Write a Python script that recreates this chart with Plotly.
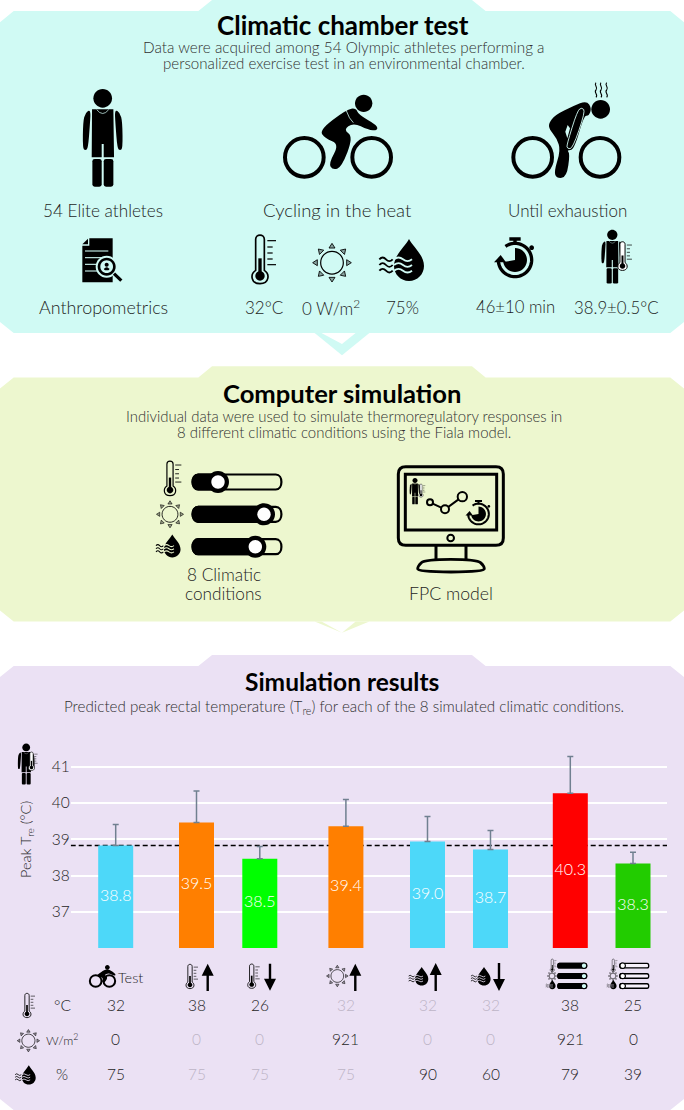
import math
import plotly.graph_objects as go

# ---------- data ----------
conditions = ["Test", "Ta up", "Ta down", "Rad up", "RH up", "RH down", "All high", "All low"]
peak_tre = [38.83, 39.46, 38.46, 39.36, 38.94, 38.72, 40.27, 38.33]
tre_err = [0.58, 0.87, 0.34, 0.74, 0.69, 0.52, 1.01, 0.31]
bar_labels = ["38.8", "39.5", "38.5", "39.4", "39.0", "38.7", "40.3", "38.3"]
reference_tre = 38.83
temp_c = [32, 38, 26, 32, 32, 32, 38, 25]
rad_wm2 = [0, 0, 0, 921, 0, 0, 921, 0]
rh_pct = [75, 75, 75, 75, 90, 60, 79, 39]
y_ticks = [37, 38, 39, 40, 41]
row_units = ["°C", "W/m<sup>2</sup>", "%"]

# ---------- layout / style ----------
W, H = 684, 1110
FONT = "Lato"
LIGHT = 300
bar_x = [115.7, 196.5, 259.8, 345.9, 427.5, 490.5, 570.3, 633]
bar_colors = ["#4DD8F9", "#FF7F00", "#00FF00", "#FF7F00", "#4DD8F9", "#4DD8F9", "#FF0000", "#22CC00"]
MINT, LIME, LILAC = "#D0FAF4", "#EDF7CF", "#EBE1F4"
DARK, FADED, SOFT = "#1E1E1E", "#BDB4C6", "#303030"
always_dark = {0, 6, 7}

shapes, annos = [], []
CLEAR = "rgba(0,0,0,0)"


def path_of(pts, close=True):
    s = "M " + " L ".join(f"{x:.2f},{y:.2f}" for x, y in pts)
    return s + (" Z" if close else "")


def draw(path, fill=None, line=None, w=0):
    shapes.append(dict(type="path", xref="x2", yref="y2", layer="above", path=path,
                       fillcolor=fill or CLEAR, line=dict(color=line or CLEAR, width=w)))


def paper(path_pts):
    return path_of([(x / W, 1 - y / H) for x, y in path_pts])


def lower(pts, fill):
    shapes.append(dict(type="path", xref="paper", yref="paper", layer="below", path=paper(pts),
                       fillcolor=fill, line=dict(width=0)))


def circle(cx, cy, r):
    k = 0.5523 * r
    return (f"M {cx-r:.2f},{cy:.2f} C {cx-r:.2f},{cy-k:.2f} {cx-k:.2f},{cy-r:.2f} {cx:.2f},{cy-r:.2f} "
            f"C {cx+k:.2f},{cy-r:.2f} {cx+r:.2f},{cy-k:.2f} {cx+r:.2f},{cy:.2f} "
            f"C {cx+r:.2f},{cy+k:.2f} {cx+k:.2f},{cy+r:.2f} {cx:.2f},{cy+r:.2f} "
            f"C {cx-k:.2f},{cy+r:.2f} {cx-r:.2f},{cy+k:.2f} {cx-r:.2f},{cy:.2f} Z")


def smooth(pts):
    n = len(pts)
    mid = lambda a, b: ((a[0] + b[0]) / 2, (a[1] + b[1]) / 2)
    start = mid(pts[-1], pts[0])
    s = f"M {start[0]:.2f},{start[1]:.2f}"
    for i in range(n):
        m = mid(pts[i], pts[(i + 1) % n])
        s += f" Q {pts[i][0]:.2f},{pts[i][1]:.2f} {m[0]:.2f},{m[1]:.2f}"
    return s + " Z"


def xf(cx, cy, s, x0, y0):
    m = s / 3
    return (lambda x, y: (cx + m * (x - x0), cy + m * (y - y0))), m


def rrect(f, m, x0, y0, x1, y1, r):
    a, b = f(x0, y0), f(x1, y1)
    r = r * m
    return (f"M {a[0]+r:.2f},{a[1]:.2f} L {b[0]-r:.2f},{a[1]:.2f} Q {b[0]:.2f},{a[1]:.2f} {b[0]:.2f},{a[1]+r:.2f} "
            f"L {b[0]:.2f},{b[1]-r:.2f} Q {b[0]:.2f},{b[1]:.2f} {b[0]-r:.2f},{b[1]:.2f} "
            f"L {a[0]+r:.2f},{b[1]:.2f} Q {a[0]:.2f},{b[1]:.2f} {a[0]:.2f},{b[1]-r:.2f} "
            f"L {a[0]:.2f},{a[1]+r:.2f} Q {a[0]:.2f},{a[1]:.2f} {a[0]+r:.2f},{a[1]:.2f} Z")


def mapped(f, pts):
    return [f(x, y) for x, y in pts]


# ---------- icons (defined in 3x crop units, placed by anchor) ----------
def person(cx, top, s, bg):
    f, m = xf(cx, top, s, 128, 27)
    draw(circle(*f(128, 55), 28 * m), "black")
    draw(path_of(mapped(f, [(96, 88), (160, 88), (162, 232), (131, 232), (131, 192), (125, 192), (125, 232), (95, 232)])), "black")
    for sign in (1, -1):
        pts = [(92, 88), (76, 98), (69, 125), (68, 206), (76, 211), (84, 206), (90, 130)]
        pts = [(128 + sign * (x - 128), y) for x, y in pts]
        draw(smooth(mapped(f, pts)), "black")
    draw(rrect(f, m, 97, 237, 125, 320, 7), "black")
    draw(rrect(f, m, 131, 237, 160, 320, 7), "black")
    a, b, c = f(110, 89), f(128, 112), f(146, 89)
    draw(f"M {a[0]:.2f},{a[1]:.2f} Q {b[0]:.2f},{b[1]:.2f} {c[0]:.2f},{c[1]:.2f}", None, bg, 2.2 * m)


def wheel(f, m, x, y):
    draw(circle(*f(x, y), 58 * m), None, "black", 12 * m)


def cyclist(bg):
    f = lambda x, y: (60 + x / 3, 80 + y / 3)
    m = 1 / 3
    wheel(f, m, 733, 232)
    wheel(f, m, 935, 232)
    draw(circle(*f(911, 70), 26 * m), "black")
    draw(smooth(mapped(f, [(778, 150), (860, 88), (888, 84), (895, 104), (952, 136), (952, 152), (925, 150), (880, 128),
                           (850, 150), (880, 170), (845, 262), (818, 270), (806, 250), (838, 192), (795, 175)])), "black")
    a, b, c = f(858, 90), f(868, 118), f(880, 128)
    draw(f"M {a[0]:.2f},{a[1]:.2f} Q {b[0]:.2f},{b[1]:.2f} {c[0]:.2f},{c[1]:.2f}", None, bg, 0.8)


def bent_cyclist(bg):
    f = lambda x, y: (490 + x / 3, 70 + y / 3)
    m = 1 / 3
    wheel(f, m, 128, 262)
    wheel(f, m, 330, 262)
    draw(circle(*f(332, 118), 28 * m), "black")
    draw(smooth(mapped(f, [(176, 160), (195, 135), (250, 108), (290, 92), (305, 115), (296, 138), (282, 136), (252, 240),
                           (230, 240), (240, 250), (230, 322), (200, 325), (192, 305), (212, 240), (200, 205), (178, 178)])), "black")
    draw(smooth(mapped(f, [(262, 122), (276, 112), (286, 125), (248, 236), (232, 236), (230, 225)])), None, bg, 0.9)
    draw(path_of(mapped(f, [(233, 165), (240, 175), (232, 205), (226, 185)])), bg)
    for x in (318, 333, 350):
        a = f(x, 38); b = f(x - 8, 46); c = f(x + 8, 52); d = f(x, 60)
        e = f(x - 8, 67); g = f(x + 8, 74); h = f(x, 82)
        draw(f"M {a[0]:.2f},{a[1]:.2f} C {b[0]:.2f},{b[1]:.2f} {c[0]:.2f},{c[1]:.2f} {d[0]:.2f},{d[1]:.2f} "
             f"C {e[0]:.2f},{e[1]:.2f} {g[0]:.2f},{g[1]:.2f} {h[0]:.2f},{h[1]:.2f}", None, "black", 1.1)


def document(bg):
    f = lambda x, y: (70 + x / 3, 225 + y / 3)
    m = 1 / 3
    draw(path_of(mapped(f, [(58, 40), (128, 40), (128, 172), (37, 172), (37, 62), (58, 62)])), "black")
    draw(path_of(mapped(f, [(37, 58), (54, 58), (54, 41)])), "black")
    for y, x1 in ((78, 115), (98, 105), (118, 88), (138, 88)):
        a, b = f(45, y), f(x1, y)
        draw(path_of([a, b], False), None, bg, 1.1)
    draw(circle(*f(110, 125), 33 * m), bg)
    draw(circle(*f(110, 125), 27 * m), "black")
    draw(circle(*f(110, 125), 19 * m), bg)
    draw(circle(*f(110, 119), 6 * m), "black")
    draw(smooth(mapped(f, [(98, 136), (110, 124), (122, 136)])), "black")
    draw(path_of([f(132, 146), f(154, 167)], False), None, "black", 3.2)


def thermometer(cx, top, s, bg, ticks=True):
    f, m = xf(cx, top, s, 570, 30)
    p = lambda x, y: "{:.2f},{:.2f}".format(*f(x, y))
    draw(f"M {p(557,136)} L {p(557,43)} C {p(557,26)} {p(583,26)} {p(583,43)} L {p(583,136)} "
         f"C {p(600,147)} {p(598,176)} {p(570,176)} C {p(542,176)} {p(540,147)} {p(557,136)} Z", bg, "black", 5 * m)
    draw(path_of(mapped(f, [(565, 100), (575, 100), (575, 150), (565, 150)])), "black")
    draw(circle(*f(570, 153), 14 * m), "black")
    if ticks:
        for y, x1 in ((47, 618), (66, 608), (84, 608), (102, 608), (119, 618)):
            draw(path_of([f(592, y), f(x1, y)], False), None, "black", 3.6 * m)


def sun(cx, cy, s):
    f, m = xf(cx, cy, s, 0, 0)
    draw(circle(cx, cy, 34 * m), None, "black", max(3.6 * m, 0.6))
    for k in range(8):
        a = math.radians(k * 45)
        u, v = math.cos(a), math.sin(a)
        draw(path_of(mapped(f, [(u * 58, v * 58), (u * 44 - v * 9, v * 44 + u * 9), (u * 44 + v * 9, v * 44 - u * 9)])),
             "rgba(0,0,0,0.35)", "black", max(2.6 * m, 0.3))


def wave(f, x0, x1, y, color, w):
    d = (x1 - x0) / 4
    pts = [f(x0, y), f(x0 + d, y - 11), f(x0 + 2 * d, y), f(x0 + 3 * d, y + 11), f(x1, y)]
    s = f"M {pts[0][0]:.2f},{pts[0][1]:.2f} Q {pts[1][0]:.2f},{pts[1][1]:.2f} {pts[2][0]:.2f},{pts[2][1]:.2f} " \
        f"Q {pts[3][0]:.2f},{pts[3][1]:.2f} {pts[4][0]:.2f},{pts[4][1]:.2f}"
    draw(s, None, color, w)


def drop(cx, cy, s, bg):
    f, m = xf(cx, cy, s, 1017, 123)
    p = lambda x, y: "{:.2f},{:.2f}".format(*f(x, y))
    draw(f"M {p(1017,42)} C {p(1005,65)} {p(972,90)} {p(972,123)} C {p(972,148)} {p(992,168)} {p(1017,168)} "
         f"C {p(1042,168)} {p(1062,148)} {p(1062,123)} C {p(1062,90)} {p(1029,65)} {p(1017,42)} Z", "black")
    for y in (103, 120, 137):
        wave(f, 928, 968, y, "black", 5.5 * m)
        wave(f, 972, 1026, y, bg, 5.5 * m)


def stopwatch(cx, cy, s, bg):
    f, m = xf(cx, cy, s, 105, 105)
    draw(path_of(mapped(f, [(88, 37), (122, 37), (122, 47), (110, 47), (110, 58), (100, 58), (100, 47), (88, 47)])), "black")
    draw(circle(*f(155, 68), 7 * m), "black")
    arc = [f(105 + 50 * math.cos(math.radians(t)), 105 + 50 * math.sin(math.radians(t))) for t in range(-125, 176, 5)]
    draw(path_of(arc, False), None, "black", 10 * m)
    draw(path_of(mapped(f, [(42, 112), (78, 112), (62, 90)])), "black")
    pie = [f(105, 105)] + [f(105 + 36 * math.cos(math.radians(t)), 105 + 36 * math.sin(math.radians(t))) for t in range(-90, 171, 10)]
    draw(path_of(pie), "black")


def slider(x0, x1, cy, h, knob, r_out, r_in, knob_fill, bg, sw):
    track = lambda a, b: (f"M {a+h/2:.2f},{cy-h/2:.2f} L {b-h/2:.2f},{cy-h/2:.2f} C {b:.2f},{cy-h/2:.2f} {b:.2f},{cy+h/2:.2f} {b-h/2:.2f},{cy+h/2:.2f} "
                          f"L {a+h/2:.2f},{cy+h/2:.2f} C {a:.2f},{cy+h/2:.2f} {a:.2f},{cy-h/2:.2f} {a+h/2:.2f},{cy-h/2:.2f} Z")
    draw(track(x0, x1), bg, "black", sw)
    draw(track(x0, min(knob + 2, x1)), "black", "black", sw)
    draw(circle(knob, cy, r_out), "black")
    draw(circle(knob, cy, r_in), knob_fill)


def monitor(bg):
    f = lambda x, y: (390 + x / 3, 460 + y / 3)
    m = 1 / 3
    draw(rrect(f, m, 25, 20, 340, 256, 22), None, "black", 3)
    draw(path_of(mapped(f, [(46, 43), (320, 43), (320, 210), (46, 210)])), None, "black", 3)
    draw(circle(*f(182, 234), 10 * m), None, "black", 2)
    for x in (138, 228):
        draw(path_of([f(x, 256), f(x, 300)], False), None, "black", 3)
    draw(smooth(mapped(f, [(105, 298), (260, 298), (283, 318), (283, 336), (83, 336), (83, 318)])), None, "black", 2.8)
    draw(path_of([f(120, 127), f(165, 148), f(217, 110)], False), None, "black", 2)
    for x, y, r in ((120, 127, 9), (165, 148, 12), (217, 110, 14)):
        draw(circle(*f(x, y), r * m), bg, "black", 2)
    person(415, 478, 0.27, bg)
    thermometer(421, 484, 0.27, "white", True)
    stopwatch(478.5, 514, 0.62, bg)


def arrow(x, top, bot, up=True):
    sw, hw, hh = 1.2, 6, 12
    if up:
        pts = [(x, top), (x + hw, top + hh), (x + sw, top + hh), (x + sw, bot), (x - sw, bot), (x - sw, top + hh), (x - hw, top + hh)]
    else:
        pts = [(x, bot), (x + hw, bot - hh), (x + sw, bot - hh), (x + sw, top), (x - sw, top), (x - sw, bot - hh), (x - hw, bot - hh)]
    draw(path_of(pts), "black")


# ---------- panels ----------
def panel(tab_top, top, bottom, left, right, color, cut=12):
    pts = [(left, top + cut), (left + cut, top), (198.5, top), (209.5, tab_top), (473.5, tab_top), (487, top),
           (right - cut, top), (right, top + cut), (right, bottom - cut), (right - cut, bottom),
           (left + cut, bottom), (left, bottom - cut)]
    lower(pts, color)


def chevron(y0, y1, color):
    lower([(314, y0), (340, y1), (366, y0), (356, y0), (340, y1 - 7), (324, y0)], color)


panel(0, 12.7, 331, 0, 684, MINT)
chevron(336, 350, MINT)
panel(370, 382, 617, 2.5, 682, LIME)
chevron(621, 636, LIME)
panel(657.3, 670, 1110, 3, 681, LILAC)

for y in (947, 1020.7, 1057):
    lower([(16.6, y - 1), (667, y - 1), (667, y + 1), (16.6, y + 1)], "white")


# ---------- text ----------
def text(x, y, s, size=15.5, color=DARK, weight=LIGHT, xref="x2", angle=0):
    annos.append(dict(x=x, y=y, xref=xref, yref="y2", text=s, showarrow=False, xanchor="center", yanchor="middle",
                      textangle=angle, font=dict(family=FONT, size=size, color=color, weight=weight)))


text(342.8, 25, "Climatic chamber test", 26, "black", 700)
text(343.7, 47, "Data were acquired among 54 Olympic athletes performing a", 15.3, SOFT)
text(343.7, 63, "personalized exercise test in an environmental chamber.", 15.1, SOFT)
for x, s, fs in ((103, "54 Elite athletes", 17.2), (337.6, "Cycling in the heat", 18.5), (567, "Until exhaustion", 17)):
    text(x, 210, s, fs)
for x, s, fs in ((103, "Anthropometrics", 17.9), (264, "32°C", 17), (331, "0 W/m<sup>2</sup>", 17), (402, "75%", 17),
                 (515, "46±10 min", 16.7), (616.6, "38.9±0.5°C", 16.8)):
    text(x, 307, s, fs)

text(342.4, 392.7, "Computer simulation", 25.6, "black", 700)
text(343.7, 415.7, "Individual data were used to simulate thermoregulatory responses in", 14.9, SOFT)
text(343.7, 431.7, "8 different climatic conditions using the Fiala model.", 14.95, SOFT)
text(223.6, 574.3, "8 Climatic", 17.2)
text(223.6, 593.7, "conditions", 17.2)
text(451, 593.7, "FPC model", 17.7)

text(342.4, 681.7, "Simulation results", 24.5, "black", 700)
text(343.7, 707.3, "Predicted peak rectal temperature (T<sub>re</sub>) for each of the 8 simulated climatic conditions.", 15.2, SOFT)
text(130.5, 977, "Test", 14.5)
for y, s, fs in zip((1005.3, 1039.3, 1074.3), row_units, (15.5, 12.5, 15.5)):
    text(62, y, s, fs)
text(26, 840, "Peak T<sub>re</sub> (°C)", 14.5, angle=-90)

base = [temp_c[0], rad_wm2[0], rh_pct[0]]
for y, row, b in zip((1005.3, 1039.3, 1074.3), (temp_c, rad_wm2, rh_pct), base):
    for i, v in enumerate(row):
        text(bar_x[i], y, str(v), 15.5, DARK if (i in always_dark or v != b) else FADED, xref="x")

# ---------- placing icons ----------
person(102.7, 89, 1, MINT)
cyclist(MINT)
bent_cyclist(MINT)
document(MINT)
thermometer(260, 235, 1, MINT)
sun(332, 262.7, 1)
drop(409, 266, 1, MINT)
stopwatch(515, 260, 1, MINT)
person(612.3, 229.7, 0.55, MINT)
thermometer(622.5, 241.7, 0.59, "white")

thermometer(170, 461, 0.71, LIME)
sun(170, 514.3, 0.7)
drop(172.3, 549.3, 0.55, LIME)
slider(190.7, 283.3, 482, 15, 218, 11, 6.7, "white", LIME, 2.2)
slider(190.7, 283.3, 514.3, 15, 264, 11, 6.7, "white", LIME, 2.2)
slider(190.7, 283.3, 546.7, 15, 255.3, 11, 6.7, "white", LIME, 2.2)
monitor(LIME)

person(26.2, 743.5, 0.42, LILAC)
thermometer(31.5, 752, 0.38, "white")

# column header icons
f = lambda x, y: (80 + x / 3, 955 + y / 3)
for wx in (47, 88):
    draw(circle(*f(wx, 78), 17.5 / 3), None, "black", 2)
draw(circle(*f(82, 37), 7 / 3), "black")
draw(smooth(mapped(f, [(50, 60), (76, 43), (88, 43), (108, 58), (104, 63), (86, 54), (72, 60), (84, 66), (74, 84), (65, 82), (70, 68), (54, 66)])), "black")
thermometer(190, 964.3, 0.5, LILAC)
arrow(207.7, 963.7, 991)
thermometer(251.7, 964, 0.5, LILAC)
arrow(270, 963.7, 990.7, False)
sun(337.3, 976, 0.56)
arrow(355.3, 963.7, 991)
drop(421.7, 979, 0.44, LILAC)
arrow(435.7, 963, 991)
drop(484, 979, 0.44, LILAC)
arrow(499, 963, 991, False)

thermometer(552.3, 959, 0.26, LILAC, True)
sun(552, 976, 0.25)
drop(552.3, 986, 0.22, LILAC)
for y in (965.7, 976, 986):
    slider(557.3, 587.3, y, 4.5, 584, 3.3, 2.1, MINT, LILAC, 1.3)
thermometer(613.3, 959, 0.26, LILAC, True)
sun(613, 976, 0.25)
drop(613.3, 986, 0.22, LILAC)
for y in (965.7, 976, 986):
    slider(619.3, 649.3, y, 4.5, 622.7, 3.3, 2.1, "white", "#F6F1FA", 1.3)

thermometer(27, 993.3, 0.5, LILAC)
sun(28.4, 1040.7, 0.58)
drop(28.8, 1077.7, 0.46, LILAC)

# ---------- chart ----------
X0, X1 = 70.7, 667.0
Y_BASE, PX_PER_DEG = 948.0, 36.25
Y_TOP_VAL = 41.5
y_top_px = Y_BASE - (Y_TOP_VAL - 36) * PX_PER_DEG

fig = go.Figure()
fig.add_trace(go.Bar(
    x=bar_x, y=peak_tre, width=35, marker=dict(color=bar_colors, line=dict(width=0)),
    customdata=conditions, cliponaxis=False,
    error_y=dict(type="data", symmetric=False, array=tre_err, arrayminus=[0] * len(tre_err),
                 color="#708090", thickness=1.5, width=3),
    showlegend=False, hoverinfo="skip",
))
fig.add_trace(go.Scatter(
    x=bar_x, y=[(36 + v) / 2 for v in peak_tre], mode="text", text=bar_labels, textposition="middle center",
    textfont=dict(family=FONT, size=16, color="white", weight=LIGHT), cliponaxis=False, showlegend=False, hoverinfo="skip",
))

shapes.append(dict(type="line", xref="x", yref="y", layer="between", x0=X0, x1=X1 + 1, y0=reference_tre, y1=reference_tre,
                   line=dict(color="black", width=1.5, dash="5px,3px")))

fig.update_layout(
    width=W, height=H, margin=dict(l=0, r=0, t=0, b=0), autosize=False,
    paper_bgcolor="white", plot_bgcolor="rgba(0,0,0,0)", showlegend=False,
    font=dict(family=FONT, color=DARK),
    xaxis=dict(domain=[X0 / W, X1 / W], range=[X0, X1], showticklabels=False, showgrid=False, zeroline=False,
               ticks="", showline=False, fixedrange=True),
    yaxis=dict(domain=[1 - Y_BASE / H, 1 - y_top_px / H], range=[36, Y_TOP_VAL], tickmode="array", tickvals=y_ticks,
               ticks="", showgrid=True, gridcolor="white", gridwidth=2, zeroline=False, showline=False,
               tickfont=dict(family=FONT, size=15.5, color=DARK, weight=LIGHT), fixedrange=True),
    xaxis2=dict(domain=[0, 1], range=[0, W], visible=False, anchor="y2", fixedrange=True),
    yaxis2=dict(domain=[0, 1], range=[H, 0], visible=False, anchor="x2", fixedrange=True),
    shapes=shapes, annotations=annos,
)

fig.write_html("out.html", config=dict(displayModeBar=False),
               post_script="document.body.style.margin='0';document.documentElement.style.overflow='hidden';")
